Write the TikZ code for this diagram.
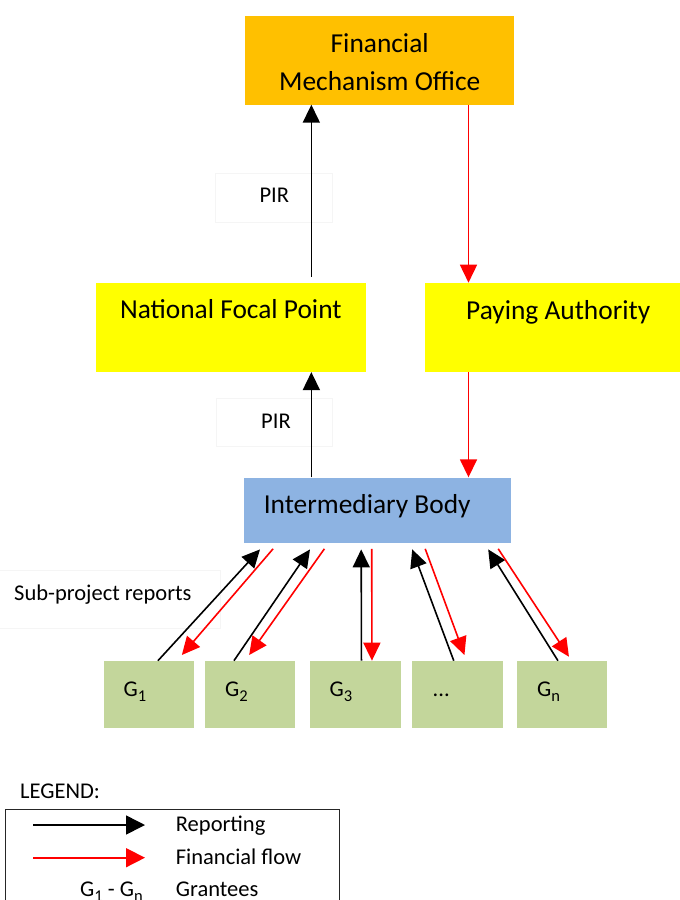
\documentclass[tikz,border=0pt]{standalone}
\usepackage{fontspec}
\setmainfont{Carlito}
\usetikzlibrary{arrows.meta,calc}
\definecolor{fmoorange}{HTML}{FFC000}
\definecolor{boxyellow}{HTML}{FFFF00}
\definecolor{ibblue}{HTML}{8DB3E2}
\definecolor{grgreen}{HTML}{C3D69B}
\definecolor{faintline}{HTML}{F5F5F5}
\newcommand{\bigtxt}{\fontsize{27.4}{32}\selectfont}
\newcommand{\smalltxt}{\fontsize{22.5}{27}\selectfont}
\newcommand{\grsub}[1]{\raisebox{-5pt}{\fontsize{16.5}{16.5}\selectfont #1}}
\begin{document}
\begin{tikzpicture}[x=1pt,y=-1pt,
  box/.style={draw=none, inner sep=0pt, anchor=north west},
  gbox/.style={box, fill=grgreen, minimum width=90.5pt, minimum height=66.6pt},
  bigtext/.style={font=\bigtxt, inner sep=0pt},
  smalltext/.style={font=\smalltxt, inner sep=0pt},
  faintbox/.style={draw=faintline, line width=0.6pt, inner sep=0pt},
  rep/.style={draw=black, line width=1.6pt, -{Triangle[length=18pt,width=17pt]}},
  fin/.style={draw=red, line width=1.6pt, -{Triangle[length=18pt,width=17pt]}, color=red},
  replg/.style={draw=black, line width=1.6pt, -{Triangle[length=19pt,width=19pt]}},
  finlg/.style={draw=red, line width=1.6pt, -{Triangle[length=19pt,width=19pt]}, color=red}]
\useasboundingbox[fill=white] (0,0) rectangle (680,900);

% main boxes
\node[box, fill=fmoorange, minimum width=269pt, minimum height=88.6pt] (fmo) at (245,15.7) {};
\node[bigtext, anchor=base] (fmo1) at ([yshift=-37pt]fmo.north) {Financial};
\node[bigtext, anchor=base] (fmo2) at ([yshift=-75pt]fmo.north) {Mechanism Office};

\node[box, fill=boxyellow, minimum width=269.3pt, minimum height=89pt] (nfp) at (96,282.7) {};
\node[bigtext, anchor=base] (nfpt) at ([yshift=-35.6pt]nfp.north) {National Focal Point};

\node[box, fill=boxyellow, minimum width=267.4pt, minimum height=89pt] (pa) at (424.3,282.7) {};
\node[bigtext, anchor=base] (pat) at ([yshift=-36.3pt]pa.north) {Paying Authority};

\node[box, fill=ibblue, minimum width=267.4pt, minimum height=65.4pt] (ib) at (243.3,477.3) {};
\node[bigtext, anchor=base] (ibt) at ([xshift=-10pt,yshift=-36pt]ib.north) {Intermediary Body};

% grantees
\node[gbox] (g1) at (103.5,660.7) {};
\node[gbox] (g2) at (204.5,660.7) {};
\node[gbox] (g3) at (310,660.7) {};
\node[gbox] (gd) at (412,660.7) {};
\node[gbox] (gn) at (516.5,660.7) {};
\node[smalltext, anchor=base west] (g1t) at ([xshift=20pt,yshift=-36pt]g1.north west) {G\grsub{1}};
\node[smalltext, anchor=base west] (g2t) at ([xshift=20.5pt,yshift=-36pt]g2.north west) {G\grsub{2}};
\node[smalltext, anchor=base west] (g3t) at ([xshift=19.5pt,yshift=-36pt]g3.north west) {G\grsub{3}};
\node[smalltext, anchor=base west] (gdt) at ([xshift=20.5pt,yshift=-36pt]gd.north west) {...};
\node[smalltext, anchor=base west] (gnt) at ([xshift=20.5pt,yshift=-36pt]gn.north west) {G\grsub{n}};

% labels
\node[faintbox, minimum width=117pt, minimum height=49pt] (pir1box) at (273.5,197.5) {};
\node[smalltext, anchor=base west] (pir1) at (259.3,202.7) {PIR};
\node[faintbox, minimum width=116.7pt, minimum height=48.4pt] (pir2box) at (274.3,422.5) {};
\node[smalltext, anchor=base west] (pir2) at (261,428.3) {PIR};
\node[faintbox, anchor=north west, minimum width=221pt, minimum height=58pt] (sprbox) at (-1,570) {};
\node[smalltext, anchor=base west] (spr) at (14,600.7) {Sub-project reports};

% vertical flows
\coordinate (bx) at ([xshift=80.5pt,yshift=6pt]nfp.north);
\coordinate (rx) at ([xshift=-89.7pt]pa.north);
\draw[rep] (bx) -- (bx |- fmo.south);
\draw[fin] (fmo.south -| rx) -- (rx);
\draw[rep] (ib.north -| bx) -- (nfp.south -| bx);
\draw[fin] (pa.south -| rx) -- (ib.north -| rx);

% reporting from grantees
\draw[rep] ([xshift=9pt]g1.north) -- ([xshift=-117.2pt,yshift=-6.3pt]ib.south);
\draw[rep] ([xshift=-16pt]g2.north) -- ([xshift=-67.2pt,yshift=-6.3pt]ib.south);
\draw[rep] ([xshift=6pt]g3.north) -- ([xshift=-16pt,yshift=-6.3pt]ib.south);
\draw[rep] ([xshift=-3.7pt]gd.north) -- ([xshift=35pt,yshift=-6.3pt]ib.south);
\draw[rep] ([xshift=-4pt]gn.north) -- ([xshift=111pt,yshift=-6.3pt]ib.south);

% funds to grantees
\draw[fin] ([xshift=-104.1pt,yshift=-5.7pt]ib.south) -- ([xshift=32.9pt,yshift=5.7pt]g1.north);
\draw[fin] ([xshift=-52.8pt,yshift=-5.7pt]ib.south) -- ([xshift=-0.8pt,yshift=5.7pt]g2.north);
\draw[fin] ([xshift=-5.5pt,yshift=-5.7pt]ib.south) -- ([xshift=16.5pt]g3.north);
\draw[fin] ([xshift=48pt,yshift=-5.7pt]ib.south) -- ([xshift=7pt,yshift=5.7pt]gd.north);
\draw[fin] ([xshift=121pt,yshift=-5.7pt]ib.south) -- ([xshift=7pt,yshift=4pt]gn.north);

% legend
\node[smalltext, anchor=base west] (legt) at (20,798.3) {LEGEND:};
\node[draw=black!85, line width=1.1pt, anchor=north west, inner sep=0pt,
      minimum width=334pt, minimum height=110pt] (legbox) at (5,809) {};
\coordinate (la0) at (33.3,825);
\coordinate (la1) at (145,825);
\coordinate (lb0) at (33.3,857.7);
\coordinate (lb1) at (145,857.7);
\draw[replg] (la0) -- (la1);
\draw[finlg] (lb0) -- (lb1);
\node[smalltext, anchor=base west] (lrep) at (175.7,831.7) {Reporting};
\node[smalltext, anchor=base west] (lfin) at (175.7,864.3) {Financial flow};
\node[smalltext, anchor=base west] (lgr) at (80,896.7) {G\grsub{1} - G\grsub{n}};
\node[smalltext, anchor=base west] (lgrt) at (175.7,896.7) {Grantees};
\end{tikzpicture}
\end{document}
